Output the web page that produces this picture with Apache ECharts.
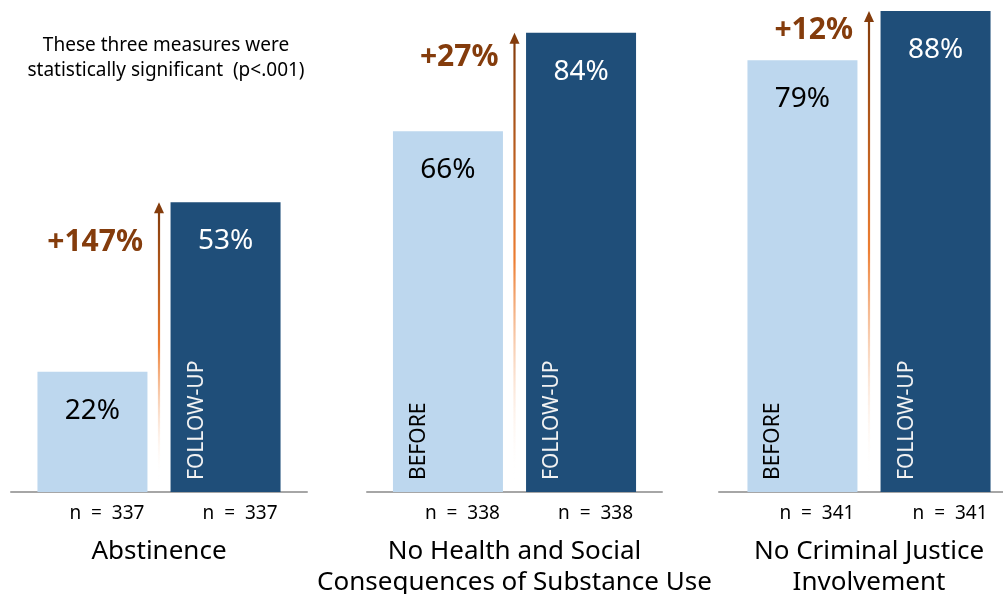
<!DOCTYPE html>
<html>
<head>
<meta charset="utf-8">
<script src="https://cdn.jsdelivr.net/npm/echarts@6/dist/echarts.min.js"></script>
<style>
  html, body { margin: 0; padding: 0; background: #fff; }
  #chart { width: 1003px; height: 594px; }
</style>
</head>
<body>
<div id="chart"></div>
<script>
// Outcome measures, before treatment vs. at follow-up (percent of clients)
const categories = [
  'Abstinence',
  'No Health and Social\nConsequences of Substance Use',
  'No Criminal Justice\nInvolvement'
];
const beforeValues = [22, 66, 79];
const followUpValues = [53, 84, 88];
const changeLabels = ['+147%', '+27%', '+12%'];
const beforeN = [337, 338, 341];
const followUpN = [337, 338, 341];
const phaseLabels = ['BEFORE', 'FOLLOW-UP'];
const showBeforeTag = [false, true, true];
const noteText = 'These three measures were\nstatistically significant  (p<.001)';

// Layout / style settings
const FONT = '"Noto Sans", "DejaVu Sans", sans-serif';
const LIGHT = '#BDD7EE';
const DARK = '#1F4E79';
const BROWN = '#843C0C';
const ORANGE = '#ED7D31';
const gridBoxes = [
  { left: 11, width: 296 },
  { left: 367, width: 295 },
  { left: 719, width: 300 }
];
const changeLabelDrop = [40, 25, 20];

const chart = echarts.init(document.getElementById('chart'), null, { renderer: 'canvas' });

const grids = gridBoxes.map(b => ({
  left: b.left, width: b.width, top: 0, bottom: 102,
  containLabel: false, outerBoundsMode: 'none'
}));
const xAxes = categories.map((c, i) => ({
  type: 'category',
  gridIndex: i,
  data: [c],
  axisTick: { show: false },
  axisLine: { lineStyle: { color: '#A6A6A6', width: 2 } },
  axisLabel: { interval: 0, margin: 44, fontSize: 26, lineHeight: 31, color: '#000', fontFamily: FONT }
}));
const yAxes = categories.map((c, i) => ({
  type: 'value', gridIndex: i, min: 0, max: 90, show: false, splitLine: { show: false }
}));

const series = [];
categories.forEach((c, i) => {
  series.push({
    type: 'bar', name: phaseLabels[0], xAxisIndex: i, yAxisIndex: i,
    data: [beforeValues[i]], barWidth: 110, barGap: '21%',
    itemStyle: { color: LIGHT },
    label: { show: true, position: 'insideTop', distance: 25, formatter: '{c}%',
             fontSize: 28, color: '#000', fontFamily: FONT },
    silent: true, animation: false
  });
  series.push({
    type: 'bar', name: phaseLabels[1], xAxisIndex: i, yAxisIndex: i,
    data: [followUpValues[i]], barWidth: 110, barGap: '21%',
    itemStyle: { color: DARK },
    label: { show: true, position: 'insideTop', distance: 25, formatter: '{c}%',
             fontSize: 28, color: '#fff', fontFamily: FONT },
    silent: true, animation: false
  });
});

chart.setOption({
  animation: false,
  grid: grids,
  xAxis: xAxes,
  yAxis: yAxes,
  series: series
});

// Decorations placed from the bar layouts computed by the chart
const elements = [];
const model = chart.getModel();
categories.forEach((c, i) => {
  const bLay = model.getSeriesByIndex(i * 2).getData().getItemLayout(0);
  const fLay = model.getSeriesByIndex(i * 2 + 1).getData().getItemLayout(0);
  const baseY = chart.convertToPixel({ gridIndex: i }, [0, 0])[1];
  const tipY = chart.convertToPixel({ gridIndex: i }, [0, followUpValues[i]])[1];
  const arrowX = (bLay.x + bLay.width + fLay.x) / 2;

  // change arrow: gradient shaft + head
  elements.push({
    type: 'rect', silent: true, z: 10,
    shape: { x: arrowX - 1.1, y: tipY + 8, width: 2.2, height: baseY - 12 - (tipY + 8) },
    style: {
      fill: new echarts.graphic.LinearGradient(0, 0, 0, 1, [
        { offset: 0, color: BROWN },
        { offset: 0.5, color: ORANGE },
        { offset: 1, color: 'rgba(255,255,255,0)' }
      ])
    }
  });
  elements.push({
    type: 'polygon', silent: true, z: 10,
    shape: { points: [[arrowX - 5, tipY + 11], [arrowX, tipY], [arrowX + 5, tipY + 11]] },
    style: { fill: BROWN }
  });
  elements.push({
    type: 'text', silent: true, z: 10,
    x: arrowX - 16, y: tipY + changeLabelDrop[i],
    style: { text: changeLabels[i], fill: BROWN, font: 'bold 30px ' + FONT,
             textAlign: 'right', textVerticalAlign: 'middle' }
  });

  // phase tags inside bars
  if (showBeforeTag[i]) {
    elements.push({
      type: 'text', silent: true, z: 10, x: bLay.x + 26, y: baseY - 12, rotation: Math.PI / 2,
      style: { text: phaseLabels[0], fill: '#000', font: '21px ' + FONT,
               textAlign: 'left', textVerticalAlign: 'middle' }
    });
  }
  elements.push({
    type: 'text', silent: true, z: 10, x: fLay.x + 26, y: baseY - 12, rotation: Math.PI / 2,
    style: { text: phaseLabels[1], fill: '#F2F2F2', font: '21px ' + FONT,
             textAlign: 'left', textVerticalAlign: 'middle' }
  });

  // sample sizes
  [[bLay, beforeN[i]], [fLay, followUpN[i]]].forEach(([lay, n]) => {
    elements.push({
      type: 'text', silent: true, z: 10, x: lay.x + lay.width - 3, y: baseY + 22,
      style: { text: 'n  =  ' + n, fill: '#000', font: '19px ' + FONT,
               textAlign: 'right', textVerticalAlign: 'middle' }
    });
  });
});

elements.push({
  type: 'text', silent: true, z: 10, x: 166, y: 58,
  style: { text: noteText, fill: '#000', font: '19px ' + FONT, lineHeight: 25,
           textAlign: 'center', textVerticalAlign: 'middle' }
});

chart.setOption({ graphic: elements });
</script>
</body>
</html>
